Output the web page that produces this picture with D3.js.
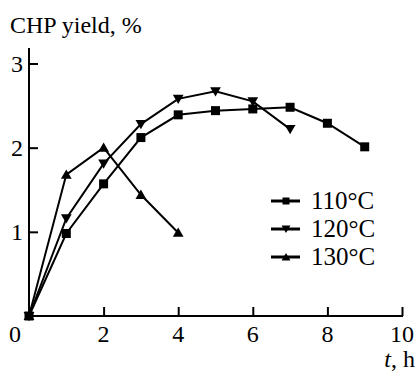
<!DOCTYPE html>
<html><head><meta charset="utf-8">
<script src="https://cdn.jsdelivr.net/npm/d3@7"></script>
</head><body style="margin:0">
<svg id="c" width="417" height="371"></svg>
<script>
const xTicks = [0, 2, 4, 6, 8, 10];
const yTicks = [1, 2, 3];
const t110 = [0, 1, 2, 3, 4, 5, 6, 7, 8, 9];
const v110 = [0, 0.98, 1.57, 2.12, 2.39, 2.44, 2.46, 2.48, 2.29, 2.01];
const t120 = [0, 1, 2, 3, 4, 5, 6, 7];
const v120 = [0, 1.16, 1.81, 2.28, 2.58, 2.67, 2.55, 2.22];
const t130 = [0, 1, 2, 3, 4];
const v130 = [0, 1.68, 2.0, 1.44, 0.99];
const seriesNames = ["110°C", "120°C", "130°C"];
const markers = ["square", "down", "up"];

const svg = d3.select("#c");
const x = d3.scaleLinear().domain([0, 10]).range([29, 402]);
const y = d3.scaleLinear().domain([0, 3]).range([316, 63.5]);

function txt(s, px, py, size, anchor) {
  return svg.append("text").attr("x", px).attr("y", py)
    .style("font-family", "'Liberation Serif', Tinos, 'Times New Roman', serif", "important")
    .style("font-size", size + "px")
    .attr("text-anchor", anchor || "start").text(s);
}

// tick labels and titles
yTicks.forEach(d => txt(String(d), 23, y(d) + 8, 24, "end"));
xTicks.forEach(d => txt(String(d), d === 0 ? 15 : x(d), 342, 24, "middle"));
txt("CHP yield, %", 10, 33, 24);
const ax = txt("", 415, 367, 24, "end");
ax.append("tspan").attr("font-style", "italic").text("t");
ax.append("tspan").text(", h");

// axes
const xAxis = d3.axisTop(x).tickValues(xTicks).tickSize(9).tickFormat("");
const gx = svg.append("g").attr("transform", `translate(0,${y(0)})`).call(xAxis);
gx.select(".domain").remove();
gx.selectAll(".tick line").attr("stroke", "#000").attr("stroke-width", 2);
svg.append("line").attr("x1", x(0) - 1).attr("x2", x(10) + 1).attr("y1", y(0)).attr("y2", y(0))
  .attr("stroke", "#000").attr("stroke-width", 2);

const yAxis = d3.axisRight(y).tickValues(yTicks).tickSize(9).tickFormat("");
const gy = svg.append("g").attr("transform", `translate(${x(0)},0)`).call(yAxis);
gy.select(".domain").remove();
gy.selectAll(".tick line").attr("stroke", "#000").attr("stroke-width", 2);
svg.append("line").attr("x1", x(0)).attr("x2", x(0)).attr("y1", 48).attr("y2", y(0) + 1)
  .attr("stroke", "#000").attr("stroke-width", 2);

function drawMarker(g, type, px, py, small) {
  const sq = d3.symbol().type(d3.symbolSquare).size(small ? 49 : 81);
  const tri = d3.symbol().type(d3.symbolTriangle).size(small ? 34 : 50);
  if (type === "square") {
    g.append("path").attr("d", sq()).attr("transform", `translate(${px},${py})`).attr("fill", "#000");
  } else {
    const rot = type === "down" ? 180 : 0;
    const dy = type === "down" ? -1 : 1;
    g.append("path").attr("d", tri()).attr("transform", `translate(${px},${py + dy}) rotate(${rot})`).attr("fill", "#000");
  }
}

const series = [[t110, v110], [t120, v120], [t130, v130]];
const line = d3.line().x(d => x(d[0])).y(d => y(d[1]));
series.forEach((s, i) => {
  const pts = s[0].map((t, j) => [t, s[1][j]]);
  const g = svg.append("g");
  g.append("path").attr("d", line(pts)).attr("fill", "none").attr("stroke", "#000").attr("stroke-width", 2);
  pts.forEach(p => drawMarker(g, markers[i], x(p[0]), y(p[1]), false));
});

// legend
seriesNames.forEach((n, i) => {
  const cy = 201 + i * 28;
  const g = svg.append("g");
  g.append("line").attr("x1", 271).attr("x2", 300).attr("y1", cy).attr("y2", cy).attr("stroke", "#000").attr("stroke-width", 3);
  drawMarker(g, markers[i], 286, cy, true);
  txt(n, 311, cy + 7.5, 25);
});
</script>
</body></html>
